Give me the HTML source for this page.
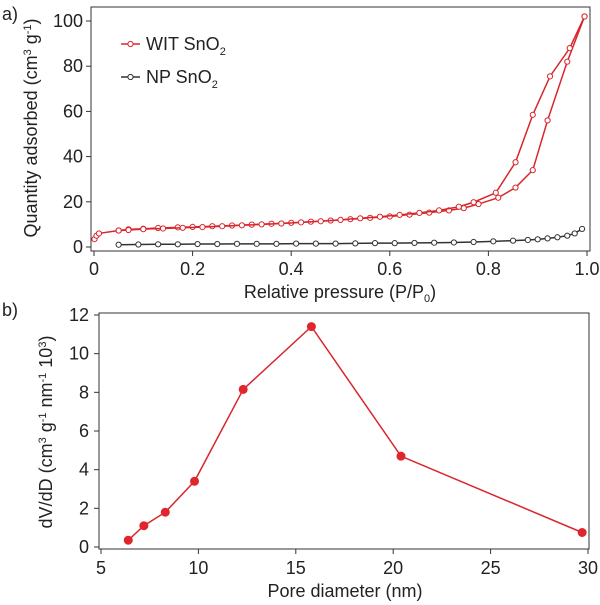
<!DOCTYPE html>
<html><head><meta charset="utf-8"><style>
body{margin:0;background:#fff;}
svg{display:block;font-family:"Liberation Sans",Arial,sans-serif;}
</style></head><body>
<svg id="chart" width="600" height="605" viewBox="0 0 600 605">
<g id="topPanel"></g><g id="botPanel"></g>
</svg>
<script>
// Panel a data
const witAdsX=[0.001,0.005,0.01,0.05,0.07,0.1,0.13,0.17,0.2,0.24,0.28,0.32,0.36,0.4,0.44,0.48,0.52,0.56,0.6,0.64,0.68,0.72,0.75,0.78,0.82,0.855,0.89,0.92,0.96,0.995];
const witAdsY=[3.5,5,6,7.3,7.8,8.1,8.4,8.7,8.9,9.2,9.5,9.9,10.3,10.7,11.2,11.7,12.3,12.9,13.5,14.3,15.2,16.2,17.2,19,21.8,26.3,34,56,82,102];
const witDesX=[0.995,0.965,0.925,0.89,0.855,0.815,0.77,0.74,0.7,0.66,0.62,0.58,0.54,0.5,0.46,0.42,0.38,0.34,0.3,0.26,0.22,0.18,0.14,0.1,0.07,0.05];
const witDesY=[102,88,75.5,58.5,37.5,24,19.8,17.8,16.2,15.1,14.2,13.4,12.7,12,11.4,10.9,10.4,10,9.6,9.2,8.8,8.5,8.2,7.9,7.5,7.3];
const npX=[0.05,0.09,0.13,0.17,0.21,0.25,0.29,0.33,0.37,0.41,0.45,0.49,0.53,0.57,0.61,0.65,0.69,0.73,0.77,0.81,0.85,0.88,0.9,0.92,0.94,0.96,0.975,0.99];
const npY=[1,1.1,1.2,1.2,1.3,1.3,1.4,1.4,1.4,1.5,1.5,1.5,1.6,1.7,1.7,1.8,1.9,2,2.2,2.5,2.8,3.1,3.4,3.8,4.3,5,6,8];
const topXTicks=[0,0.2,0.4,0.6,0.8,1.0];
const topXLabels=["0","0.2","0.4","0.6","0.8","1.0"];
const topYTicks=[0,20,40,60,80,100];
// Panel b data
const poreX=[6.4,7.2,8.3,9.8,12.3,15.8,20.4,29.7];
const poreY=[0.35,1.1,1.8,3.4,8.15,11.4,4.7,0.75];
const botXTicks=[5,10,15,20,25,30];
const botYTicks=[0,2,4,6,8,10,12];

const NS="http://www.w3.org/2000/svg";
function mk(parent,tag,attrs,text){const e=document.createElementNS(NS,tag);for(const k in attrs)e.setAttribute(k,attrs[k]);if(text!==undefined)e.textContent=text;parent.appendChild(e);return e;}
const gTop=document.getElementById('topPanel'),gBot=document.getElementById('botPanel');
const FS=18;

// ---------- panel a ----------
const ax=v=>94+(587-94)*v, ay=v=>247-(247-21)*v/100;
let f=mk(gTop,'rect',{x:91,y:7,width:499,height:244,fill:'none',stroke:'#333','stroke-width':1});


topXTicks.forEach((t,i)=>{
 let l=mk(gTop,'line',{x1:ax(t),x2:ax(t),y1:251,y2:256,stroke:'#333'});
 
 
 let tx=mk(gTop,'text',{x:ax(t),y:275,'font-size':FS,'text-anchor':'middle',fill:'#222'},topXLabels[i]);
 
 
});
topYTicks.forEach(t=>{
 let l=mk(gTop,'line',{x1:86,x2:91,y1:ay(t),y2:ay(t),stroke:'#333'});
 
 
 let tx=mk(gTop,'text',{x:83,y:ay(t)+6,'font-size':FS,'text-anchor':'end',fill:'#222'},t);
 
 
});
let xt=mk(gTop,'text',{x:340,y:298,'font-size':FS,'text-anchor':'middle',fill:'#222'});


xt.innerHTML='Relative pressure (P/P<tspan font-size="11" dy="4">0</tspan><tspan dy="-4">)</tspan>';
let yt=mk(gTop,'text',{transform:'translate(37,128) rotate(-90)','font-size':FS,'text-anchor':'middle',fill:'#222'});


yt.innerHTML='Quantity adsorbed (cm<tspan font-size="11" dy="-6">3</tspan><tspan dy="6"> g</tspan><tspan font-size="11" dy="-6">-1</tspan><tspan dy="6">)</tspan>';
let pl=mk(gTop,'text',{x:2,y:20,'font-size':FS,fill:'#222'},'a)');



function series(g,xs,ys,fx,fy,col,name,r){
 let p=mk(g,'polyline',{points:xs.map((x,i)=>fx(x)+','+fy(ys[i])).join(' '),fill:'none',stroke:col,'stroke-width':1.5});
 
 
 xs.forEach((x,i)=>{
  let c=mk(g,'circle',{cx:fx(x),cy:fy(ys[i]),r:r,fill:'#fff',stroke:col,'stroke-width':1});
  
  
 });
}
series(gTop,npX,npY,ax,ay,'#333','np-sno2',2.6);
series(gTop,witAdsX,witAdsY,ax,ay,'#d8262c','wit-adsorption',2.6);
series(gTop,witDesX,witDesY,ax,ay,'#d8262c','wit-desorption',2.6);

// legend
[['#d8262c',44,'WIT SnO','legend-wit'],['#333',77,'NP SnO','legend-np']].forEach(d=>{
 let g=mk(gTop,'g',{});
 
 
 mk(g,'line',{x1:121,x2:140,y1:d[1],y2:d[1],stroke:d[0],'stroke-width':1.5});
 mk(g,'circle',{cx:130.5,cy:d[1],r:2.6,fill:'#fff',stroke:d[0]});
 let t=mk(g,'text',{x:146,y:d[1]+6,'font-size':FS,fill:'#222'});
 t.innerHTML=d[2]+'<tspan font-size="11" dy="5">2</tspan>';
});

// ---------- panel b ----------
const bx=v=>101+(588-101)*(v-5)/25, by=v=>547-(547-315)*v/12;
let f2=mk(gBot,'rect',{x:99,y:313,width:490,height:236,fill:'none',stroke:'#333','stroke-width':1});


botXTicks.forEach(t=>{
 let l=mk(gBot,'line',{x1:bx(t),x2:bx(t),y1:549,y2:554,stroke:'#333'});
 
 
 let tx=mk(gBot,'text',{x:bx(t),y:574,'font-size':FS,'text-anchor':'middle',fill:'#222'},t);
 
 
});
botYTicks.forEach(t=>{
 let l=mk(gBot,'line',{x1:94,x2:99,y1:by(t),y2:by(t),stroke:'#333'});
 
 
 let tx=mk(gBot,'text',{x:89,y:by(t)+6,'font-size':FS,'text-anchor':'end',fill:'#222'},t);
 
 
});
let xt2=mk(gBot,'text',{x:345,y:597,'font-size':FS,'text-anchor':'middle',fill:'#222'},'Pore diameter (nm)');


let yt2=mk(gBot,'text',{transform:'translate(52,432) rotate(-90)','font-size':FS,'text-anchor':'middle',fill:'#222'});


yt2.innerHTML='dV/dD (cm<tspan font-size="11" dy="-6">3</tspan><tspan dy="6"> g</tspan><tspan font-size="11" dy="-6">-1</tspan><tspan dy="6"> nm</tspan><tspan font-size="11" dy="-6">-1</tspan><tspan dy="6"> 10</tspan><tspan font-size="11" dy="-6">3</tspan><tspan dy="6">)</tspan>';
let pl2=mk(gBot,'text',{x:2,y:316,'font-size':FS,fill:'#222'},'b)');


let pp=mk(gBot,'polyline',{points:poreX.map((x,i)=>bx(x)+','+by(poreY[i])).join(' '),fill:'none',stroke:'#d8262c','stroke-width':1.5});


poreX.forEach((x,i)=>{
 let c=mk(gBot,'circle',{cx:bx(x),cy:by(poreY[i]),r:4.5,fill:'#e0262c'});
 
 
});
</script>
</body></html>
